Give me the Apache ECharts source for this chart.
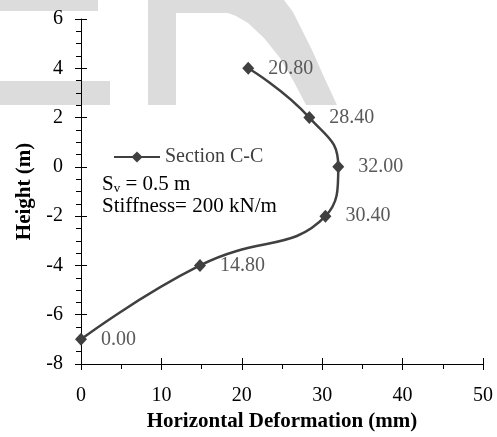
<!DOCTYPE html>
<html><head><meta charset="utf-8">
<script src="https://cdn.jsdelivr.net/npm/echarts@6/dist/echarts.min.js"></script>
<style>html,body{margin:0;padding:0;background:#fff}#c{width:497px;height:437px}</style>
</head><body><div id="c"></div>
<script>
var heights = [4, 2, 0, -2, -4, -7];
var deformations = [20.8, 28.4, 32.0, 30.4, 14.8, 0.0];
var seriesName = 'Section C-C';
var xTicks = [0, 10, 20, 30, 40, 50];
var yTicks = [-8, -6, -4, -2, 0, 2, 4, 6];
var noteLines = ['S_v = 0.5 m', 'Stiffness= 200 kN/m'];

var FONT = '"Liberation Serif", "Times New Roman", serif';
var data = deformations.map(function (d, i) { return [d, heights[i]]; });
var chart = echarts.init(document.getElementById('c'), null, {renderer: 'canvas'});
var wm = '#dcdcdc';
var commonX = {
  type: 'value', min: xTicks[0], max: xTicks[xTicks.length - 1], interval: 10,
  splitLine: {show: false}
};
var commonY = {
  type: 'value', min: yTicks[0], max: yTicks[yTicks.length - 1], interval: 2,
  splitLine: {show: false}
};
chart.setOption({
  animation: false,
  graphic: [
    {type: 'rect', z: -10, silent: true, shape: {x: 0, y: 0, width: 98, height: 11}, style: {fill: wm}},
    {type: 'rect', z: -10, silent: true, shape: {x: 0, y: 81, width: 110, height: 24}, style: {fill: wm}},
    {type: 'rect', z: -10, silent: true, shape: {x: 148, y: 0, width: 28, height: 105}, style: {fill: wm}},
    {type: 'polygon', z: -10, silent: true, shape: {points: [
      [176, 0], [284, 0], [293, 12], [302, 30], [312, 50], [324, 77], [337, 105],
      [306, 105], [294, 82], [280, 58], [264, 38], [248, 23], [236, 16], [228, 13], [176, 13]
    ]}, style: {fill: wm}},
    {type: 'text', left: 102, top: 174, z: 10, style: {
      text: '{a|S}{s|v}{a| = 0.5 m}',
      rich: {a: {fontFamily: FONT, fontSize: 21, fill: '#000'}, s: {fontFamily: FONT, fontSize: 13, fill: '#000', verticalAlign: 'bottom', padding: [9, 0, 0, 0]}}
    }},
    {type: 'text', left: 102, top: 196, z: 10, style: {
      text: noteLines[1], fontFamily: FONT, fontSize: 21, fill: '#000'
    }}
  ],
  legend: {
    left: 108, top: 142, itemWidth: 46, itemHeight: 14, itemGap: 4,
    textStyle: {fontFamily: FONT, fontSize: 20, color: '#404040'},
    data: [seriesName]
  },
  grid: {left: 81, right: 14, top: 19, bottom: 72},
  xAxis: [
    Object.assign({}, commonX, {
      position: 'bottom',
      name: 'Horizontal Deformation (mm)', nameLocation: 'middle', nameGap: 47,
      nameTextStyle: {fontFamily: FONT, fontSize: 21, fontWeight: 'bold', color: '#000'},
      axisLine: {show: true, onZero: false, lineStyle: {color: '#000', width: 1}},
      axisTick: {show: true, inside: false, length: 6, lineStyle: {color: '#000'}},
      minorTick: {show: true, splitNumber: 2, length: 5, lineStyle: {color: '#000'}},
      axisLabel: {fontFamily: FONT, fontSize: 20, color: '#000', margin: 22}
    }),
    Object.assign({}, commonX, {
      position: 'bottom',
      axisLine: {show: false, onZero: false},
      axisTick: {show: true, inside: true, length: 6, lineStyle: {color: '#000'}},
      axisLabel: {show: false}
    })
  ],
  yAxis: [
    Object.assign({}, commonY, {
      position: 'left',
      name: 'Height (m)', nameLocation: 'middle', nameGap: 45, nameRotate: 90,
      nameTextStyle: {fontFamily: FONT, fontSize: 21, fontWeight: 'bold', color: '#000'},
      axisLine: {show: true, onZero: false, lineStyle: {color: '#000', width: 1}},
      axisTick: {show: true, inside: false, length: 6, lineStyle: {color: '#000'}},
      minorTick: {show: true, splitNumber: 4, length: 5, lineStyle: {color: '#000'}},
      axisLabel: {fontFamily: FONT, fontSize: 20, color: '#000', margin: 18}
    }),
    Object.assign({}, commonY, {
      position: 'left',
      axisLine: {show: false, onZero: false},
      axisTick: {show: true, inside: true, length: 6, lineStyle: {color: '#000'}},
      axisLabel: {show: false}
    })
  ],
  series: [{
    name: seriesName, type: 'line', data: data, smooth: 0.5,
    symbol: 'diamond', symbolSize: [12, 13],
    lineStyle: {color: '#404040', width: 2.5},
    itemStyle: {color: '#404040'},
    label: {
      show: true, position: 'right', distance: 14,
      fontFamily: FONT, fontSize: 20, color: '#595959',
      formatter: function (p) { return p.value[0].toFixed(2); }
    }
  }]
});
</script></body></html>
